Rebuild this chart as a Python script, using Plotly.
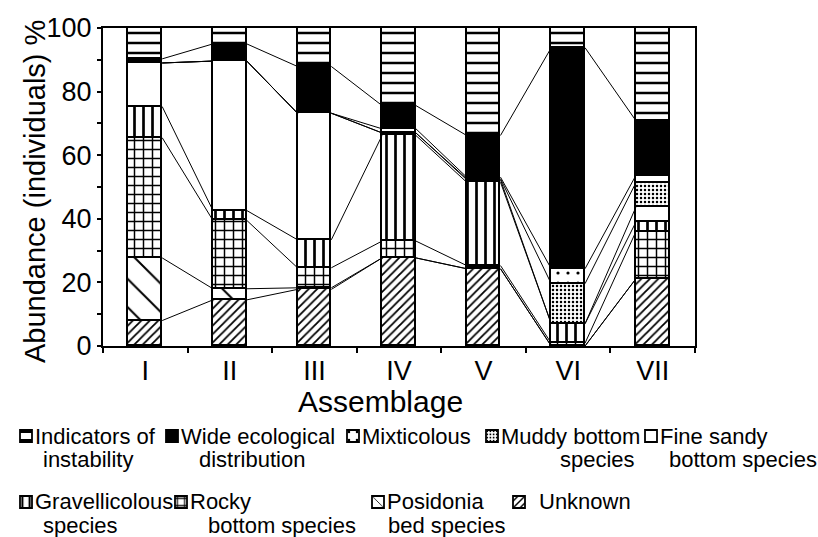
import plotly.graph_objects as go

# ---------------- data ----------------
assemblages = ["I", "II", "III", "IV", "V", "VI", "VII"]

# stacked from bottom to top (percent of individuals)
unknown        = [8.0, 14.5, 17.8, 27.7, 24.3, 0.0, 21.1]
posidonia      = [19.7, 3.5, 0.5, 0.0, 0.0, 0.0, 0.0]
rocky          = [37.8, 21.5, 6.3, 5.3, 1.0, 0.9, 14.8]
gravellicolous = [9.8, 3.1, 8.8, 33.2, 26.2, 6.1, 3.0]
fine_sandy     = [13.7, 47.0, 39.8, 0.8, 0.8, 0.0, 4.7]
muddy          = [0.0, 0.0, 0.0, 0.0, 0.3, 12.6, 7.7]
mixticolous    = [0.0, 0.0, 0.0, 1.3, 0.5, 4.7, 2.3]
wide_ecol      = [1.3, 5.4, 14.7, 7.3, 13.1, 69.5, 17.3]
instability    = [9.7, 5.0, 12.1, 24.4, 33.8, 6.2, 29.1]

series_values = [unknown, posidonia, rocky, gravellicolous, fine_sandy,
                 muddy, mixticolous, wide_ecol, instability]

# legend labels (line 1, line 2) in the same bottom-to-top order
legend_labels = [
    ("Unknown", ""),
    ("Posidonia", "bed species"),
    ("Rocky", "bottom species"),
    ("Gravellicolous", "species"),
    ("Fine sandy", "bottom species"),
    ("Muddy bottom", "species"),
    ("Mixticolous", ""),
    ("Wide ecological", "distribution"),
    ("Indicators of", "instability"),
]

yticks = [0, 20, 40, 60, 80, 100]

# ---------------- styles ----------------
FONT = "Liberation Sans, Arial, sans-serif"
styles = [
    dict(shape="/", size=6, solidity=0.3),     # Unknown
    dict(shape="\\", size=20, solidity=0.1),   # Posidonia
    dict(shape="+", size=9, solidity=0.3),     # Rocky
    dict(shape="|", size=9, solidity=0.3),     # Gravellicolous
    None,                                      # Fine sandy (white)
    dict(shape=".", size=4, solidity=0.3),     # Muddy
    dict(shape=".", size=10, solidity=0.08),   # Mixticolous
    "black",                                   # Wide ecological
    dict(shape="-", size=10, solidity=0.25),   # Instability
]

# plot area in pixels (for converting legend positions)
L, R, T, B = 103, 695, 28, 346
W = 818
H = 537
def px(x):
    return (x - L) / (R - L)
def py(y):
    return (B - y) / (B - T)

# legend placement: (swatch left px, row-1 y px, x of line 1, x of line 2)
legend_pos = [
    (513, 502, 537, None),
    (372, 502, 385, 386),
    (175, 502, 188, 206),
    (20, 502, 33, 41),
    (645, 436, 658, 667),
    (486, 436, 499, 558),
    (347, 436, 360, None),
    (166, 436, 179, 197),
    (20, 436, 33, 41),
]
LINE_GAP = 23

BW = 0.40
xpos = list(range(len(assemblages)))

fig = go.Figure()
for j, (vals, st) in enumerate(zip(series_values, styles)):
    marker = dict(line=dict(color="black", width=1.8))
    if st is None:
        marker["color"] = "white"
    elif st == "black":
        marker["color"] = "black"
    else:
        marker["color"] = "white"
        marker["pattern"] = dict(fgcolor="black", bgcolor="white",
                                 fillmode="replace", **st)
    fig.add_trace(go.Bar(x=xpos, y=vals, name="", width=BW, marker=marker,
                         legend="legend" if j == 0 else f"legend{j+1}",
                         showlegend=True))

# connecting lines between bars at each stacked boundary
cum = []
run = [0.0] * len(assemblages)
for vals in series_values[:-1]:
    run = [a + b for a, b in zip(run, vals)]
    cum.append(run)
lx, ly = [], []
for level in cum:
    for i in range(len(assemblages) - 1):
        lx += [xpos[i] + BW / 2, xpos[i + 1] - BW / 2, None]
        ly += [level[i], level[i + 1], None]
fig.add_trace(go.Scatter(x=lx, y=ly, mode="lines", showlegend=False,
                         line=dict(color="black", width=1), hoverinfo="skip"))

# ---------------- legends (swatches) + label text ----------------
annotations = []
for j, ((sx, sy, tx1, tx2), (t1, t2)) in enumerate(zip(legend_pos, legend_labels)):
    key = "legend" if j == 0 else f"legend{j+1}"
    fig.layout[key] = dict(x=px(sx - 14), y=py(sy), xanchor="left", yanchor="middle",
                           bgcolor="rgba(0,0,0,0)", borderwidth=0,
                           font=dict(size=10, color="rgba(0,0,0,0)"))
    for t, tx, ty in [(t1, tx1, sy), (t2, tx2, sy + LINE_GAP)]:
        if not t:
            continue
        annotations.append(dict(text=t, x=px(tx), y=py(ty), xref="paper", yref="paper",
                                xanchor="left", yanchor="middle", showarrow=False,
                                font=dict(family=FONT, size=22, color="black")))

annotations.append(dict(text="Abundance (individuals) %", x=px(35), y=py(192),
                        xref="paper", yref="paper", textangle=-90, showarrow=False,
                        xanchor="center", yanchor="middle",
                        font=dict(family=FONT, size=29, color="black")))
annotations.append(dict(text="Assemblage", x=px(380), y=py(401),
                        xref="paper", yref="paper", showarrow=False,
                        xanchor="center", yanchor="middle",
                        font=dict(family=FONT, size=30, color="black")))

fig.update_layout(
    width=W, height=H,
    margin=dict(l=L, r=W - R, t=T, b=H - B, pad=0, autoexpand=False),
    paper_bgcolor="white", plot_bgcolor="white",
    barmode="stack", bargap=0,
    font=dict(family=FONT, color="black"),
    annotations=annotations,
)
fig.update_xaxes(range=[-0.5, 6.5], tickmode="array", tickvals=xpos,
                 ticktext=assemblages, ticks="outside", ticklen=0,
                 tickfont=dict(size=27), showline=True, linecolor="black",
                 linewidth=2, mirror=True, showgrid=False, zeroline=False,
                 ticklabelstandoff=0,
                 minor=dict(tickmode="array", tickvals=[i - 0.5 for i in range(8)],
                            ticks="outside", ticklen=5, tickcolor="black", tickwidth=1.5))
fig.update_yaxes(range=[0, 100], tickmode="array", tickvals=yticks,
                 ticks="outside", ticklen=4, tickwidth=1.5, tickcolor="black",
                 tickfont=dict(size=27), showline=True, linecolor="black",
                 linewidth=2, mirror=True, showgrid=False, zeroline=False,
                 minor=dict(dtick=10, ticks="outside", ticklen=4, tickcolor="black",
                            tickwidth=1.5))

fig.write_html("out.html", config={"displayModeBar": False},
               post_script="document.body.style.margin='0px';document.body.style.overflow='hidden';")
